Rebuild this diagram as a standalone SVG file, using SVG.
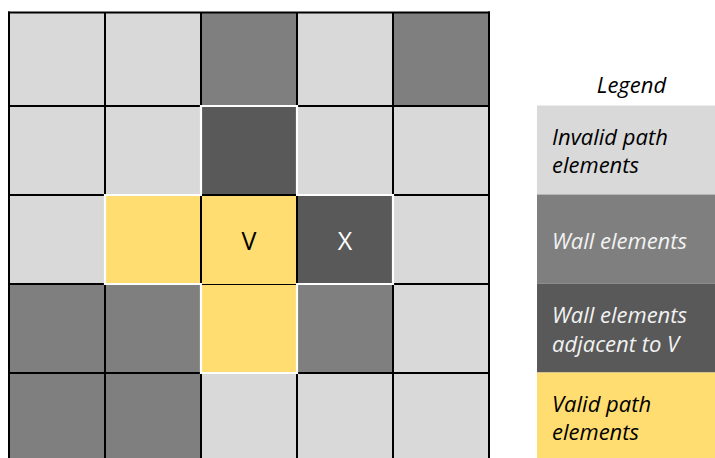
<svg xmlns="http://www.w3.org/2000/svg" width="715" height="458" viewBox="0 0 715 458">
<style>
.L{fill:#D9D9D9}.M{fill:#7F7F7F}.D{fill:#595959}.Y{fill:#FFDD71}
.bk{stroke:#000;stroke-width:2;fill:none}
.wh{stroke:#FFF;stroke-width:2.2;fill:none}
.cell{font-family:"Open Sans",sans-serif;font-size:25px;text-anchor:middle}
.lg{font-family:"Open Sans",sans-serif;font-style:italic;font-size:22px}
</style>
<rect width="715" height="458" fill="#FFF"/>
<g id="grid-cells">
<g id="r1"><rect class="L" x="9" y="12.5" width="96" height="93.5"/><rect class="L" x="105" y="12.5" width="96" height="93.5"/><rect class="M" x="201" y="12.5" width="96" height="93.5"/><rect class="L" x="297" y="12.5" width="96" height="93.5"/><rect class="M" x="393" y="12.5" width="96" height="93.5"/></g>
<g id="r2"><rect class="L" x="9" y="106" width="96" height="89"/><rect class="L" x="105" y="106" width="96" height="89"/><rect class="D" x="201" y="106" width="96" height="89"/><rect class="L" x="297" y="106" width="96" height="89"/><rect class="L" x="393" y="106" width="96" height="89"/></g>
<g id="r3"><rect class="L" x="9" y="195" width="96" height="89"/><rect class="Y" x="105" y="195" width="96" height="89"/><rect class="Y" x="201" y="195" width="96" height="89"/><rect class="D" x="297" y="195" width="96" height="89"/><rect class="L" x="393" y="195" width="96" height="89"/></g>
<g id="r4"><rect class="M" x="9" y="284" width="96" height="89"/><rect class="M" x="105" y="284" width="96" height="89"/><rect class="Y" x="201" y="284" width="96" height="89"/><rect class="M" x="297" y="284" width="96" height="89"/><rect class="L" x="393" y="284" width="96" height="89"/></g>
<g id="r5"><rect class="M" x="9" y="373" width="96" height="89"/><rect class="M" x="105" y="373" width="96" height="89"/><rect class="L" x="201" y="373" width="96" height="89"/><rect class="L" x="297" y="373" width="96" height="89"/><rect class="L" x="393" y="373" width="96" height="89"/></g>
</g>
<g id="grid-lines">
<path class="bk" d="M9 11.5V462M105 12V462M201 12V462M297 12V462M393 12V462M489 11.5V462"/>
<path class="bk" d="M8 106H490M8 195H490M8 284H490M8 373H490"/>
<path class="bk" stroke-width="1.5" d="M8 12.5H490"/>
<path class="wh" d="M200 106H298M201 105V195.5M297 105V195.5"/>
<path class="wh" d="M104 195H202M296 195H394M105 194V285M393 194V285"/>
<path class="wh" d="M104 284H202M296 284H394"/>
<path class="wh" d="M201 284V374M297 283V374M200 373H298"/>
<path d="M202 284H296" stroke="#FFDD71" stroke-width="2.2"/>
<path d="M202 284.5H296" stroke="#000" stroke-width="1"/>
<path d="M202 195H296" stroke="#000" stroke-width="2"/>
</g>
<g id="cell-labels">
<text class="cell" x="249" y="250" fill="#000">V</text>
<text class="cell" x="345" y="250" fill="#FFF">X</text>
</g>
<g id="legend">
<text class="lg" x="631.5" y="93" font-size="20" text-anchor="middle" fill="#000">Legend</text>
<g id="legend-invalid"><rect class="L" x="537" y="105.5" width="178" height="89"/><text class="lg" x="552" y="145" fill="#000">Invalid path</text><text class="lg" x="552" y="173" fill="#000">elements</text></g>
<g id="legend-wall"><rect class="M" x="537" y="194.5" width="178" height="89"/><text class="lg" x="552" y="249" fill="#F2F2F2">Wall elements</text></g>
<g id="legend-adjacent"><rect class="D" x="537" y="283.5" width="178" height="89"/><text class="lg" x="552" y="323" fill="#F2F2F2">Wall elements</text><text class="lg" x="552" y="352" fill="#F2F2F2">adjacent to V</text></g>
<g id="legend-valid"><rect class="Y" x="537" y="372.5" width="178" height="86"/><text class="lg" x="552" y="412" fill="#000">Valid path</text><text class="lg" x="552" y="440" fill="#000">elements</text></g>
</g>
</svg>
